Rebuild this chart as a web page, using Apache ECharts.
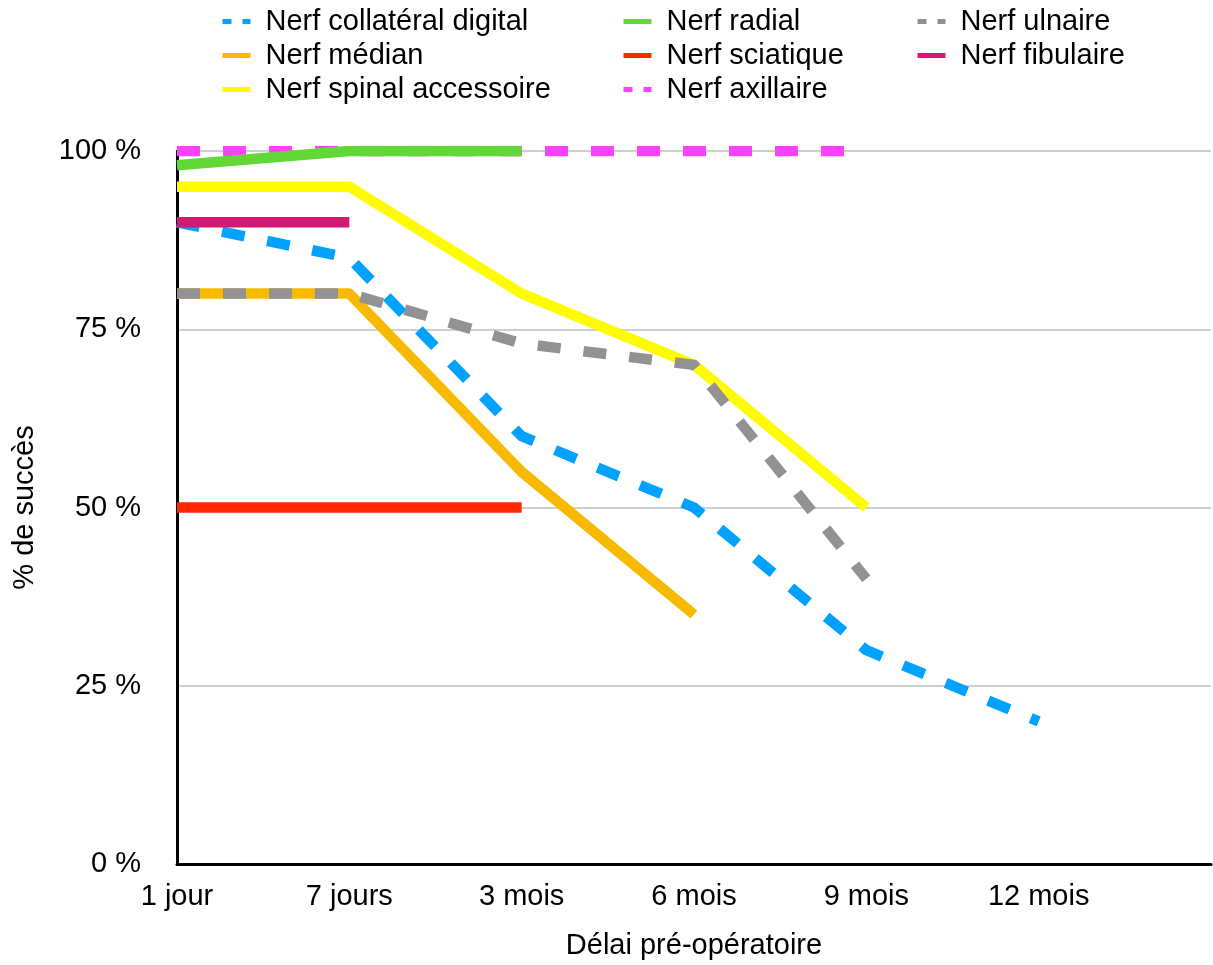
<!DOCTYPE html>
<html>
<head>
<meta charset="utf-8">
<script src="https://cdn.jsdelivr.net/npm/echarts@6/dist/echarts.min.js"></script>
<style>
  html, body { margin: 0; padding: 0; background: #fff; }
  #chart { width: 1213px; height: 965px; }
</style>
</head>
<body>
<div id="chart"></div>
<script>
// Délai pré-opératoire (x) — the last slot is left empty
const categories = ['1 jour', '7 jours', '3 mois', '6 mois', '9 mois', '12 mois', ''];

// % de succès per nerve, per delay
const collateralDigital = [90, 85, 60, 50, 30, 20, null];
const median = [80, 80, 55, 35, null, null, null];
const spinalAccessoire = [95, 95, 80, 70, 50, null, null];
const radial = [98, 100, 100, null, null, null, null];
const sciatique = [50, 50, 50, null, null, null, null];
const axillaire = [100, 100, 100, 100, 100, null, null];
const ulnaire = [80, 80, 73, 70, 40, null, null];
const fibulaire = [90, 90, null, null, null, null, null];

const yTicks = [0, 25, 50, 75, 100];

const FONT = '"Liberation Sans", Arial, Helvetica, sans-serif';
const FS = 29;
const DASH = [23, 23];
const LEGEND_DASH = [9, 11];

function line(name, data, color, dashed) {
  return {
    name: name,
    type: 'line',
    data: data,
    symbol: 'none',
    connectNulls: false,
    animation: false,
    lineStyle: { color: color, width: 10.5, type: dashed ? DASH : 'solid', cap: 'butt', join: 'round' },
    itemStyle: { color: color }
  };
}

// drawing order: later series sit on top
const series = [
  line('Nerf axillaire', axillaire, '#FF40FF', true),
  line('Nerf radial', radial, '#61D836', false),
  line('Nerf sciatique', sciatique, '#FF2600', false),
  line('Nerf médian', median, '#F8BA00', false),
  line('Nerf spinal accessoire', spinalAccessoire, '#FFFB00', false),
  line('Nerf ulnaire', ulnaire, '#929292', true),
  line('Nerf collatéral digital', collateralDigital, '#00A2FF', true),
  line('Nerf fibulaire', fibulaire, '#D31876', false)
];

const dashedNames = ['Nerf collatéral digital', 'Nerf axillaire', 'Nerf ulnaire'];

function legendCol(names, left) {
  return {
    orient: 'vertical',
    left: left,
    top: 7,
    padding: 0,
    itemWidth: 28,
    itemHeight: 8,
    itemGap: 5,
    lineStyle: { width: 5 },
    itemStyle: { opacity: 0, borderWidth: 0 },
    textStyle: { fontSize: FS, color: '#000', fontFamily: FONT, padding: [0, 0, 0, 10] },
    data: names.map(n => ({
      name: n,
      itemStyle: { opacity: 0, borderWidth: 0 },
      lineStyle: dashedNames.indexOf(n) >= 0 ? { type: LEGEND_DASH, width: 5 } : { width: 5 }
    }))
  };
}

const chart = echarts.init(document.getElementById('chart'), null, { renderer: 'canvas' });
chart.setOption({
  backgroundColor: '#fff',
  animation: false,
  textStyle: { fontFamily: FONT },
  legend: [
    legendCol(['Nerf collatéral digital', 'Nerf médian', 'Nerf spinal accessoire'], 220),
    legendCol(['Nerf radial', 'Nerf sciatique', 'Nerf axillaire'], 621),
    legendCol(['Nerf ulnaire', 'Nerf fibulaire'], 915)
  ],
  grid: { left: 177, right: 2, top: 151, bottom: 101, containLabel: false, outerBoundsMode: 'none' },
  xAxis: {
    type: 'category',
    data: categories,
    boundaryGap: false,
    name: 'Délai pré-opératoire',
    nameLocation: 'middle',
    nameGap: 67,
    nameTextStyle: { fontSize: FS, color: '#000', fontFamily: FONT },
    axisLine: { show: true, lineStyle: { color: '#000', width: 3 } },
    axisTick: { show: false },
    axisLabel: { fontSize: FS, color: '#000', margin: 18, fontFamily: FONT, interval: 0 },
    splitLine: { show: false }
  },
  yAxis: {
    type: 'value',
    min: yTicks[0],
    max: yTicks[yTicks.length - 1],
    interval: 25,
    name: '% de succès',
    nameLocation: 'middle',
    nameRotate: 90,
    nameGap: 138,
    nameTextStyle: { fontSize: FS, color: '#000', fontFamily: FONT },
    axisLine: { show: true, lineStyle: { color: '#000', width: 3 } },
    axisTick: { show: false },
    axisLabel: { fontSize: FS, color: '#000', margin: 36, fontFamily: FONT, formatter: v => v + ' %' },
    splitLine: { show: true, lineStyle: { color: '#CFCFCF', width: 2 } }
  },
  series: series
});
</script>
</body>
</html>
